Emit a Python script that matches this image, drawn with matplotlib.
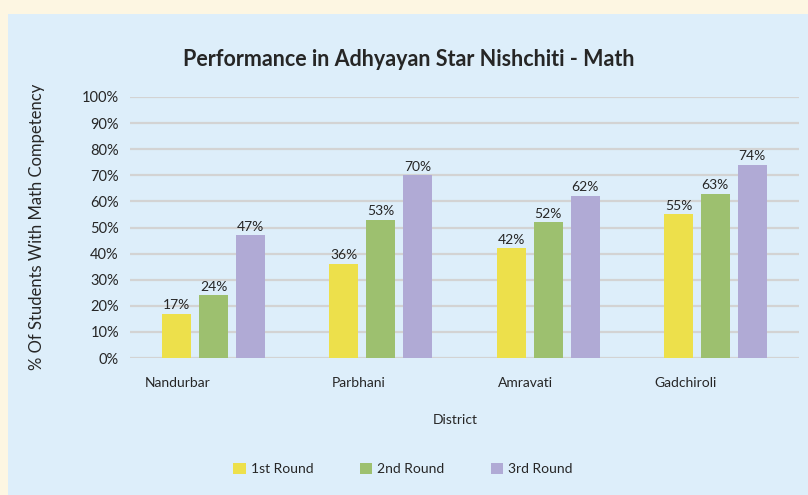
import matplotlib
matplotlib.use("Agg")
import matplotlib.pyplot as plt
import matplotlib.transforms as mtransforms
from matplotlib.patches import Rectangle, Patch
import numpy as np

plt.rcParams['font.family'] = ['Lato', 'DejaVu Sans']

districts = ["Nandurbar", "Parbhani", "Amravati", "Gadchiroli"]
series_names = ["1st Round", "2nd Round", "3rd Round"]
round1 = [17, 36, 42, 55]
round2 = [24, 53, 52, 63]
round3 = [47, 70, 62, 74]
yticks = list(range(0, 101, 10))

colors = ["#ede04b", "#9dc06f", "#b0aad5"]
label_shift_px = [-36, -22, -23, -30]
text_col = "#262626"

fig = plt.figure(figsize=(8.08, 4.95), dpi=100)
fig.patch.set_facecolor("#fdf6e2")
fig.patches.append(Rectangle((8/808, 0), 1, 1 - 14/495, transform=fig.transFigure,
                             facecolor="#ddeefa", edgecolor="none", zorder=-5))

ax = fig.add_axes([130/808, 137/495, 669/808, 261/495])
ax.set_facecolor("none")
x = np.arange(len(districts))
w = 0.173
step = 0.221
for i, (vals, c, name) in enumerate(zip([round1, round2, round3], colors, series_names)):
    bars = ax.bar(x + (i - 1) * step, vals, width=w, color=c, label=name, zorder=3)
    for b, v in zip(bars, vals):
        ax.annotate(f"{v}%", (b.get_x() + b.get_width() / 2, v), xytext=(0, 2),
                    textcoords="offset points", ha="center", va="bottom",
                    fontsize=10, color=text_col)

ax.set_xlim(-0.5, len(districts) - 0.5)
ax.set_ylim(0, 100)
ax.set_yticks(yticks)
ax.set_yticklabels([f"{t}%" for t in yticks], fontsize=10.5, color=text_col)
ax.yaxis.grid(True, color="#d3d3d3", linewidth=1.6, zorder=0)
ax.set_axisbelow(True)
for s in ax.spines.values():
    s.set_visible(False)
ax.tick_params(axis="y", length=0, pad=8)
ax.tick_params(axis="x", length=0, pad=14)
ax.set_xticks(x)
ax.set_xticklabels(districts, fontsize=10, color=text_col)
for lbl, dx in zip(ax.get_xticklabels(), label_shift_px):
    lbl.set_transform(lbl.get_transform() + mtransforms.ScaledTranslation(dx / 100, 0, fig.dpi_scale_trans))

ax.set_xlabel("District", fontsize=10, color=text_col)
ax.xaxis.set_label_coords((455 - 130) / 669, -(420 - 358) / 261)
ax.xaxis.label.set_va("center")
ax.set_ylabel("% Of Students With Math Competency", fontsize=12, color=text_col)
ax.yaxis.set_label_coords(-(130 - 37) / 669, (358 - 227) / 261)
ax.yaxis.label.set_va("center")

fig.text(409 / 808, 1 - 60 / 495, "Performance in Adhyayan Star Nishchiti - Math",
         ha="center", va="center", fontsize=15.5, fontweight="bold", color=text_col)

handles = [Patch(facecolor=c, edgecolor="none") for c in colors]
fig.legend(handles, series_names, loc="center", bbox_to_anchor=(403 / 808, 1 - 469 / 495),
           ncol=3, frameon=False, fontsize=10, handlelength=0.9, handleheight=0.9,
           handletextpad=0.35, columnspacing=3.35, labelcolor=text_col)

fig.savefig("out.png", dpi=100, facecolor=fig.get_facecolor())
